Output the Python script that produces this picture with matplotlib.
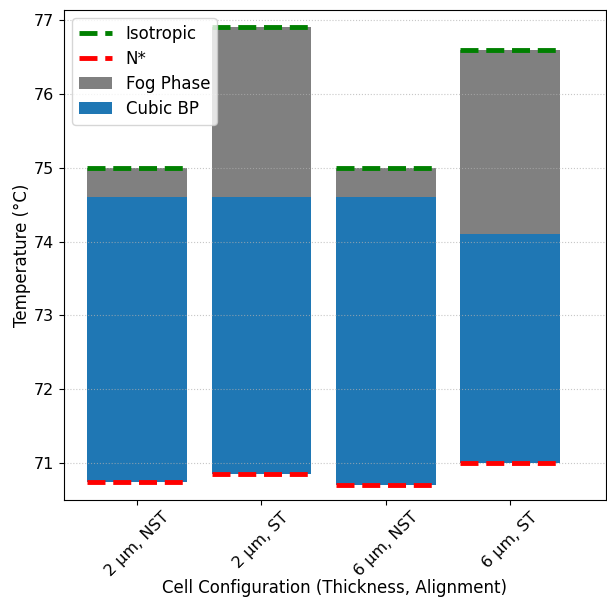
import numpy as np
import matplotlib
matplotlib.use('Agg')
import matplotlib.pyplot as plt

configs = ['2 µm, NST', '2 µm, ST', '6 µm, NST', '6 µm, ST']
nstar_temp = [70.75, 70.85, 70.70, 71.00]
cubic_top = [74.6, 74.6, 74.6, 74.1]
iso_temp = [75.0, 76.9, 75.0, 76.6]

x = np.arange(len(configs))
w = 0.8

fig = plt.figure(figsize=(6.07, 6.01), dpi=100)
ax = fig.add_axes([64 / 607, 101 / 601, 542 / 607, 490 / 601])

cubic_h = np.array(cubic_top) - np.array(nstar_temp)
fog_h = np.array(iso_temp) - np.array(cubic_top)
b_cubic = ax.bar(x, cubic_h, w, bottom=nstar_temp, color='#1f77b4', label='Cubic BP')
b_fog = ax.bar(x, fog_h, w, bottom=cubic_top, color='gray', label='Fog Phase')

for i in range(len(configs)):
    l_iso, = ax.plot([x[i] - w / 2, x[i] + w / 2], [iso_temp[i]] * 2,
                     color='green', linestyle='--', linewidth=3.5, label='Isotropic')
    l_n, = ax.plot([x[i] - w / 2, x[i] + w / 2], [nstar_temp[i]] * 2,
                   color='red', linestyle='--', linewidth=3.5, label='N*')

ax.set_xlim(-0.586, 3.77)
ax.set_ylim(70.5, 77.135)
ax.set_xticks(x)
ax.set_xticklabels(configs, rotation=45, fontsize=11.5)
ax.tick_params(axis='y', labelsize=11.5)
ax.set_ylabel('Temperature (°C)', fontsize=12, labelpad=2)
ax.set_xlabel('Cell Configuration (Thickness, Alignment)', fontsize=12, labelpad=0)
ax.grid(axis='y', linestyle=':', alpha=0.7)
ax.legend([l_iso, l_n, b_fog, b_cubic], ['Isotropic', 'N*', 'Fog Phase', 'Cubic BP'],
          loc='upper left', fontsize=12, labelspacing=0.42)

fig.savefig('out.png', dpi=100)
